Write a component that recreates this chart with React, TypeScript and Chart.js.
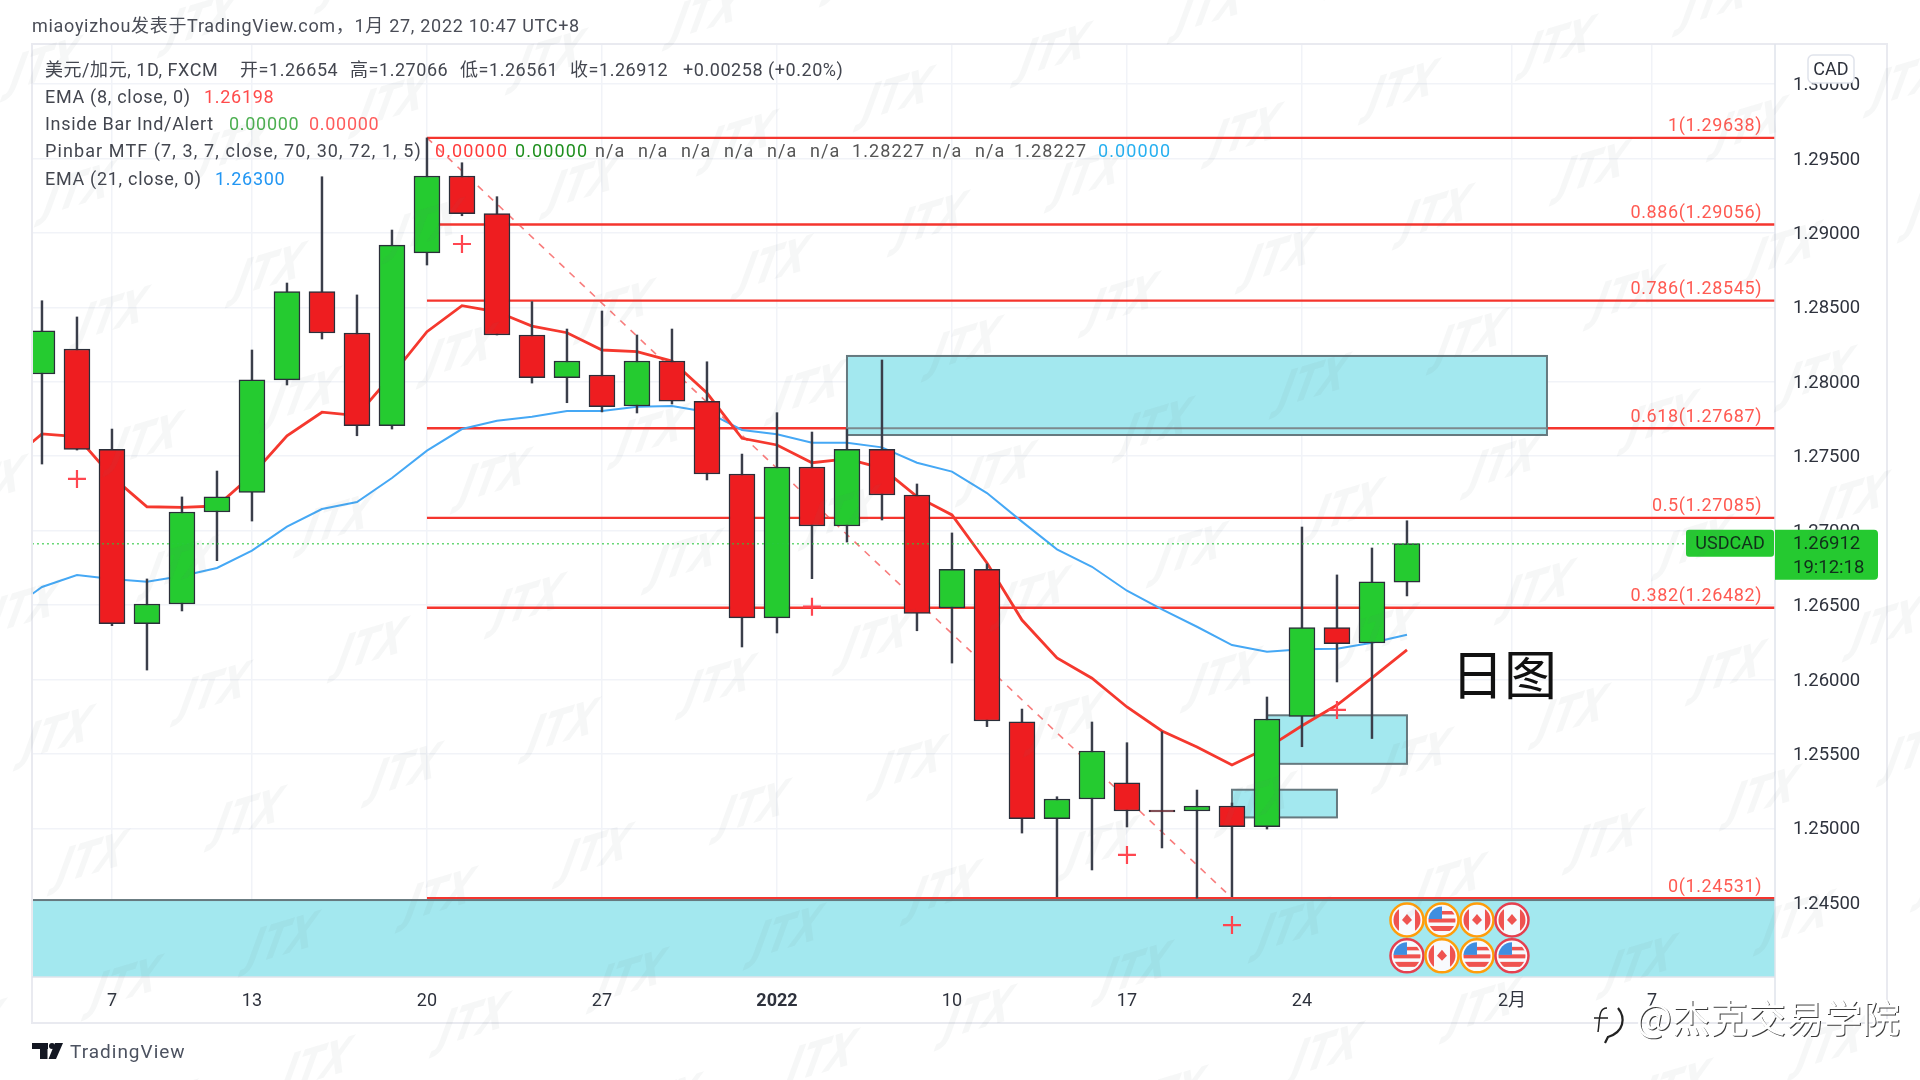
import React, { useEffect, useRef } from "react";
import { Chart, registerables } from "chart.js";

Chart.register(...registerables);

const tickIndex = [2, 6, 11, 16, 21, 26, 31, 36, 42, 46];
const tickText = ["7", "13", "20", "27", "2022", "10", "17", "24", "2月", "7"];
const priceTicks = [1.245, 1.25, 1.255, 1.26, 1.265, 1.27, 1.275, 1.28, 1.285, 1.29, 1.295, 1.3];

const opens = [1.28052,1.2822,1.27546,1.26374,1.26507,1.27125,1.27257,1.28012,1.28605,1.28327,1.27705,1.28865,1.29382,1.29129,1.28314,1.28027,1.28045,1.27837,1.28139,1.27868,1.2738,1.26413,1.27427,1.27031,1.27546,1.27239,1.2648,1.2674,1.25716,1.25064,1.25197,1.25306,1.25122,1.25116,1.2515,1.25011,1.25752,1.26348,1.26245,1.26654];
const highs = [1.28544,1.28435,1.27682,1.26675,1.27226,1.274,1.28213,1.28663,1.29377,1.28583,1.29019,1.29638,1.29471,1.29243,1.28538,1.28354,1.28475,1.28314,1.28354,1.28134,1.27514,1.27792,1.27662,1.27682,1.28146,1.27313,1.26984,1.26776,1.25801,1.25212,1.25714,1.25575,1.25649,1.25257,1.2517,1.25882,1.27024,1.26702,1.26883,1.27066];
const lows = [1.27447,1.27541,1.26361,1.26063,1.2646,1.26798,1.27064,1.27978,1.28287,1.27637,1.27682,1.28784,1.29115,1.28314,1.27991,1.27859,1.27797,1.2779,1.2785,1.2734,1.26218,1.26312,1.26677,1.26923,1.27071,1.26327,1.2611,1.25683,1.24968,1.2454,1.2472,1.25009,1.24868,1.24531,1.2454,1.24995,1.25548,1.25983,1.25603,1.26561];
const closes = [1.28341,1.27546,1.26374,1.26507,1.27125,1.27226,1.28012,1.28605,1.28327,1.27705,1.28918,1.29382,1.29129,1.28314,1.28027,1.28139,1.27832,1.28139,1.2787,1.2738,1.26413,1.27427,1.27031,1.27546,1.27239,1.26444,1.2674,1.25721,1.25064,1.25197,1.25519,1.25116,1.2511,1.2515,1.25011,1.25734,1.26348,1.26241,1.26655,1.26912];

const ema8 = [1.27454,1.27649,1.27631,1.27362,1.2716,1.27156,1.27165,1.27373,1.27637,1.27795,1.27772,1.28045,1.28336,1.28511,1.2847,1.28374,1.28329,1.28213,1.28202,1.28139,1.27924,1.2762,1.27575,1.27456,1.27481,1.2742,1.27228,1.27105,1.26782,1.26399,1.26144,1.26008,1.25815,1.25654,1.25546,1.25425,1.25539,1.25689,1.25828,1.2601,1.26198];
const ema21 = [1.26453,1.26621,1.26702,1.26675,1.26657,1.26695,1.26749,1.26865,1.27026,1.27145,1.27192,1.27353,1.27537,1.27682,1.27738,1.27765,1.27803,1.27803,1.27832,1.27837,1.27797,1.27676,1.27647,1.2759,1.2759,1.27559,1.27456,1.27396,1.27252,1.2706,1.26874,1.26757,1.26596,1.26471,1.26354,1.26231,1.26186,1.26202,1.26206,1.26247,1.263];

const fibLevels = [1.29638, 1.29056, 1.28545, 1.27687, 1.27085, 1.26482, 1.24531];
const fibNames = ["1", "0.886", "0.786", "0.618", "0.5", "0.382", "0"];
const crossX = [12, 1, 22, 37, 31, 34];
const crossY = [1.28925, 1.27347, 1.26489, 1.25795, 1.24821, 1.2435];
const boxX0 = [23, 35, 34, -2];
const boxX1 = [43, 39, 37, 52];
const boxTop = [1.28173, 1.25759, 1.25259, 1.24518];
const boxBottom = [1.27642, 1.25433, 1.25073, 1.2395];
const flagX = [39, 40, 41, 42, 39, 40, 41, 42];
const flagY = [1.24384, 1.24384, 1.24384, 1.24384, 1.24143, 1.24143, 1.24143, 1.24143];
const flagKind = ["CA", "US", "CA", "CA", "US", "CA", "US", "US"];
const flagRing = ["o", "o", "o", "r", "r", "o", "o", "r"];
const lastPrice = 1.26912;

const title = "miaoyizhou发表于TradingView.com，1月 27, 2022 10:47 UTC+8";
const INK = "#43464f", NA = "#555";
const legendRows: [string, string][][] = [
  [["美元/加元, 1D, FXCM", INK], ["开=1.26654", INK], ["高=1.27066", INK], ["低=1.26561", INK], ["收=1.26912", INK], ["+0.00258 (+0.20%)", INK]],
  [["EMA (8, close, 0)", INK], ["1.26198", "#ff4b4b"]],
  [["Inside Bar Ind/Alert", INK], ["0.00000", "#4caf50"], ["0.00000", "#ff5c5c"]],
  [["Pinbar MTF (7, 3, 7, close, 70, 30, 72, 1, 5)", INK], ["0.00000", "#ff3b3b"], ["0.00000", "#1f8f1f"],
   ["n/a", NA], ["n/a", NA], ["n/a", NA], ["n/a", NA], ["n/a", NA], ["n/a", NA],
   ["1.28227", NA], ["n/a", NA], ["n/a", NA], ["1.28227", NA], ["0.00000", "#27b0f0"]],
  [["EMA (21, close, 0)", INK], ["1.26300", "#2196f3"]],
];
// where each legend item starts on the page, and how far its row is tracked
const legendCols = [
  [45, 240, 350, 460, 570, 683],
  [45, 204],
  [45, 229, 309],
  [45, 435, 515, 595, 638, 681, 724, 767, 810, 852, 932, 975, 1014, 1098],
  [45, 215],
];
const legendTrack = ["0.55px", "0.7px", "0.7px", "1.1px", "0.7px"];

const W = 1920, H = 1080;
const UI = "Roboto, 'Noto Sans CJK SC', sans-serif";
const RED = "#ee1d20", GREEN = "#25cb30", FIB = "#f5352e", EDGE = "#2b2f3a";

const bars = opens.map((o, i) => ({ x: i, y: [o, closes[i]] }));
const wicks = lows.map((l, i) => ({ x: i, y: [l, highs[i]] }));
const rising = closes.map((c, i) => c >= opens[i]);

function put(ctx: any, s: string, x: number, y: number, font: string, color: string, align: any = "left", spacing = "0px") {
  ctx.save();
  ctx.font = font;
  ctx.fillStyle = color;
  ctx.textAlign = align;
  ctx.textBaseline = "middle";
  ctx.letterSpacing = spacing;
  ctx.fillText(s, x, y);
  ctx.restore();
}

function drawFlag(ctx: any, x: number, y: number, kind: string, ring: string) {
  const r = 16.5;
  ctx.save();
  ctx.beginPath();
  ctx.arc(x, y, r, 0, Math.PI * 2);
  ctx.fillStyle = "#f8fafd";
  ctx.fill();
  ctx.save();
  ctx.beginPath();
  ctx.arc(x, y, r - 3, 0, Math.PI * 2);
  ctx.clip();
  ctx.fillStyle = "#ef5350";
  if (kind === "CA") {
    ctx.fillRect(x - r, y - r, r - 8, r * 2);
    ctx.fillRect(x + 8, y - r, r - 8, r * 2);
    ctx.beginPath();
    ctx.moveTo(x, y - 6); ctx.lineTo(x + 5, y); ctx.lineTo(x, y + 5); ctx.lineTo(x - 5, y);
    ctx.closePath();
    ctx.fill();
  } else {
    ctx.fillRect(x - r, y - 1.5, r * 2, 4);
    ctx.fillRect(x - r, y + 6, r * 2, 5);
    ctx.fillRect(x, y - 9, r, 3.5);
    ctx.fillStyle = "#3f8ee0";
    ctx.fillRect(x - r, y - r, r, r - 1);
  }
  ctx.restore();
  ctx.beginPath();
  ctx.arc(x, y, r, 0, Math.PI * 2);
  ctx.lineWidth = 2.5;
  ctx.strokeStyle = ring === "o" ? "#ff9d0a" : "#e5404f";
  ctx.stroke();
  ctx.restore();
}

const boxPlugin = {
  id: "boxes",
  beforeDatasetDraw(chart: any, args: any) {
    if (chart.data.datasets[args.index].label !== "EMA 21") return;
    const { ctx, chartArea: a, scales } = chart;
    ctx.save();
    ctx.beginPath();
    ctx.rect(a.left, a.top, a.right - a.left, a.bottom - a.top);
    ctx.clip();
    boxX0.forEach((v, i) => {
      const l = scales.x.getPixelForValue(v), r = scales.x.getPixelForValue(boxX1[i]);
      const t = scales.y.getPixelForValue(boxTop[i]), b = scales.y.getPixelForValue(boxBottom[i]);
      ctx.fillStyle = "#a3e8ef";
      ctx.fillRect(l, t, r - l, b - t);
      ctx.lineWidth = 2;
      ctx.strokeStyle = "#66797f";
      ctx.strokeRect(l, t, r - l, b - t);
    });
    const y = scales.y.getPixelForValue(fibLevels[3]);
    ctx.strokeStyle = "#7d8a8e";
    ctx.lineWidth = 2;
    ctx.beginPath();
    ctx.moveTo(scales.x.getPixelForValue(boxX0[0]), y);
    ctx.lineTo(scales.x.getPixelForValue(boxX1[0]), y);
    ctx.stroke();
    ctx.restore();
  },
};

const overlayPlugin = {
  id: "overlay",
  afterDraw(chart: any) {
    const { ctx, chartArea: a, scales } = chart;
    // frame
    ctx.save();
    ctx.strokeStyle = "#e9eaf0";
    ctx.lineWidth = 2;
    ctx.strokeRect(32, 44, 1855, 979);
    ctx.strokeStyle = "#e0e3eb";
    ctx.lineWidth = 1.5;
    ctx.beginPath();
    ctx.moveTo(a.right, a.top); ctx.lineTo(a.right, 1023);
    ctx.moveTo(a.left, a.bottom); ctx.lineTo(a.right, a.bottom);
    ctx.stroke();
    ctx.restore();

    // fib labels
    fibLevels.forEach((v, i) => {
      put(ctx, `${fibNames[i]}(${v.toFixed(5)})`, 1762, scales.y.getPixelForValue(v) - 11, `18px ${UI}`, "#ff5a52", "right", "0.6px");
    });

    // flags
    flagX.forEach((v, i) => drawFlag(ctx, scales.x.getPixelForValue(v), scales.y.getPixelForValue(flagY[i]), flagKind[i], flagRing[i]));

    // title and legend
    put(ctx, title, 32, 27, `18px ${UI}`, "#4a4d57", "left", "0.7px");
    const rowY = [71.5, 98.5, 125.5, 152.5, 180.5];
    legendRows.forEach((row, ri) => {
      row.forEach(([s, c], ci) => put(ctx, s, legendCols[ri][ci], rowY[ri], `18px ${UI}`, c, "left", legendTrack[ri]));
    });

    // CAD badge
    ctx.save();
    ctx.beginPath();
    ctx.roundRect(1808, 55, 46, 28, 5);
    ctx.fillStyle = "#fff";
    ctx.fill();
    ctx.strokeStyle = "#e0e3eb";
    ctx.lineWidth = 1.5;
    ctx.stroke();
    ctx.restore();
    put(ctx, "CAD", 1831, 70, `18px ${UI}`, "#2e323d", "center");

    // last price tags
    const py = scales.y.getPixelForValue(lastPrice);
    ctx.save();
    ctx.fillStyle = "#25c930";
    ctx.beginPath();
    ctx.roundRect(1686, py - 14, 88, 27, 3);
    ctx.fill();
    ctx.beginPath();
    ctx.roundRect(1775, py - 14, 103, 50, [0, 4, 4, 0]);
    ctx.fill();
    ctx.restore();
    put(ctx, "USDCAD", 1730, py + 1, `18px ${UI}`, "#10301a", "center");
    put(ctx, lastPrice.toFixed(5), 1793, py + 1, `18.5px ${UI}`, "#10301a");
    put(ctx, "19:12:18", 1793, py + 25, `18.5px ${UI}`, "#10301a");

    // big label
    put(ctx, "日图", 1504, 675, `53px 'Noto Sans CJK SC', sans-serif`, "#111", "center");

    // TradingView mark
    ctx.save();
    ctx.fillStyle = "#131722";
    ctx.fillRect(32, 1043, 16, 6);
    ctx.fillRect(40, 1043, 7.5, 16);
    ctx.beginPath(); ctx.arc(52, 1046, 3, 0, Math.PI * 2); ctx.fill();
    ctx.beginPath();
    ctx.moveTo(55, 1043); ctx.lineTo(63, 1043); ctx.lineTo(56, 1059); ctx.lineTo(48.5, 1059);
    ctx.closePath(); ctx.fill();
    ctx.restore();
    put(ctx, "TradingView", 70, 1053, `19px ${UI}`, "#4c5260", "left", "1px");

    // repeating watermark
    ctx.save();
    ctx.font = "italic bold 40px 'DejaVu Sans Condensed', 'DejaVu Sans', sans-serif";
    ctx.fillStyle = "rgba(110,115,125,0.06)";
    ctx.textAlign = "center";
    ctx.textBaseline = "middle";
    for (let m = -16; m <= 16; m++) {
      for (let n = -12; n <= 12; n++) {
        const x = 91 + 157 * m + 34 * n;
        const y = 862 - 44 * m + 125 * n;
        if (x < -60 || x > W + 60 || y < -60 || y > H + 60) continue;
        ctx.save();
        ctx.translate(x, y);
        ctx.transform(1, -0.3, -0.3, 1.25, 0, 0);
        ctx.fillText("JTX", 0, 0);
        ctx.restore();
      }
    }
    ctx.restore();

    // publisher mark
    const pub = "@杰克交易学院";
    const pubFont = `38px 'Noto Sans CJK SC', sans-serif`;
    put(ctx, pub, 1637, 1019, pubFont, "#3a3a3a");
    put(ctx, pub, 1636, 1018, pubFont, "#ffffff");
    ctx.save();
    ctx.strokeStyle = "#222";
    ctx.lineWidth = 1.5;
    ctx.beginPath();
    ctx.moveTo(1607, 1008);
    ctx.bezierCurveTo(1598, 1008, 1600, 1020, 1598, 1032);
    ctx.moveTo(1594, 1018); ctx.lineTo(1608, 1018);
    ctx.stroke();
    ctx.lineWidth = 2.2;
    ctx.beginPath();
    ctx.moveTo(1618, 1008);
    ctx.bezierCurveTo(1626, 1018, 1624, 1032, 1608, 1037);
    ctx.lineTo(1605, 1043);
    ctx.stroke();
    ctx.restore();
  },
};

export default function App() {
  const ref = useRef<HTMLCanvasElement>(null);
  useEffect(() => {
    document.body.style.margin = "0";
    document.body.style.background = "#fff";
    const fibSets = fibLevels.map((v, i) => ({
      type: "line" as const,
      label: `fib ${fibNames[i]}`,
      data: [{ x: 11, y: v }, { x: 52, y: v }],
      borderColor: FIB,
      borderWidth: 2.4,
      pointRadius: 0,
      order: 50,
    }));
    const chart = new Chart(ref.current as HTMLCanvasElement, {
      type: "bar",
      data: {
        datasets: [
          ...fibSets,
          {
            type: "line",
            label: "swing",
            data: [{ x: 11, y: fibLevels[0] }, { x: 34, y: fibLevels[6] }],
            borderColor: "rgba(245,80,80,0.75)",
            borderWidth: 1.6,
            borderDash: [7, 7],
            pointRadius: 0,
            order: 45,
          },
          {
            type: "line",
            label: "EMA 21",
            data: ema21.map((v, i) => ({ x: i - 1, y: v })),
            borderColor: "#45a8f5",
            borderWidth: 2,
            pointRadius: 0,
            order: 41,
          },
          {
            type: "line",
            label: "EMA 8",
            data: ema8.map((v, i) => ({ x: i - 1, y: v })),
            borderColor: "#f5382e",
            borderWidth: 2.8,
            pointRadius: 0,
            order: 40,
          },
          {
            type: "bar",
            label: "wick",
            data: wicks,
            barThickness: 1.8,
            backgroundColor: "#3a3e4a",
            borderWidth: 0,
            grouped: false,
            order: 30,
          },
          {
            type: "bar",
            label: "body",
            data: bars,
            barThickness: 26,
            backgroundColor: rising.map((r) => (r ? GREEN : RED)),
            borderColor: EDGE,
            borderWidth: 1.5,
            borderSkipped: false,
            grouped: false,
            order: 20,
          },
          {
            type: "line",
            label: "last",
            data: [{ x: -1, y: lastPrice }, { x: 52, y: lastPrice }],
            borderColor: "rgba(40,200,60,0.7)",
            borderWidth: 1.5,
            borderDash: [2, 3],
            pointRadius: 0,
            order: 10,
          },
          {
            type: "line",
            label: "pinbar",
            data: crossX.map((x, i) => ({ x, y: crossY[i] })),
            showLine: false,
            pointStyle: "cross",
            pointRadius: 9,
            pointBorderColor: "#ff4650",
            pointBorderWidth: 2.2,
            order: 5,
          },
        ],
      },
      options: {
        responsive: false,
        animation: false,
        events: [],
        layout: { padding: { left: 32, top: 44, right: 33, bottom: 57 } },
        plugins: { legend: { display: false }, tooltip: { enabled: false } },
        scales: {
          x: {
            type: "linear",
            offset: false,
            min: -0.285,
            max: 49.515,
            afterBuildTicks(s: any) {
              s.ticks = tickIndex.map((value) => ({ value }));
            },
            afterFit(s: any) {
              s.height = 46;
            },
            grid: { color: "#f1f3f8", lineWidth: 1.5, drawTicks: false, offset: false },
            border: { display: false },
            ticks: {
              autoSkip: false,
              maxRotation: 0,
              padding: 14,
              color: "#2e323d",
              font: (c: any) => ({
                family: UI,
                size: 18,
                weight: c.tick && c.tick.value === 21 ? "bold" : "normal",
              }),
              callback: (v: any) => tickText[tickIndex.indexOf(v)],
            },
          },
          y: {
            position: "right",
            min: 1.24001,
            max: 1.302687,
            afterBuildTicks(s: any) {
              s.ticks = priceTicks.map((value) => ({ value }));
            },
            afterFit(s: any) {
              s.width = 112;
            },
            grid: { color: "#f1f3f8", lineWidth: 1.5, drawTicks: false },
            border: { display: false },
            ticks: {
              autoSkip: false,
              padding: 18,
              labelOffset: 1.5,
              color: "#2e323d",
              font: { family: UI, size: 18.5 },
              callback: (v: any) => Number(v).toFixed(5),
            },
          },
        },
      } as any,
      plugins: [boxPlugin, overlayPlugin],
    } as any);
    return () => chart.destroy();
  }, []);
  return (
    <div style={{ position: "fixed", left: 0, top: 0, width: W, height: H, background: "#fff" }}>
      <canvas ref={ref} width={W} height={H} style={{ display: "block" }} />
    </div>
  );
}
